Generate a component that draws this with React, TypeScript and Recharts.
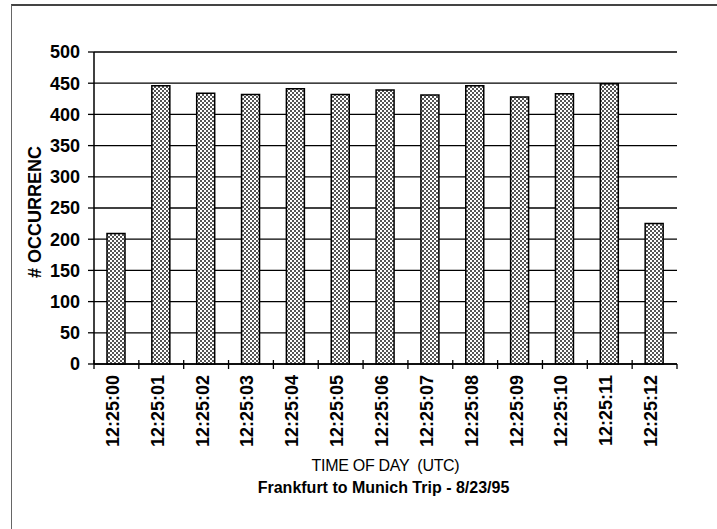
import { BarChart, Bar, XAxis, YAxis, CartesianGrid } from 'recharts';

const TIMES = [
  '12:25:00', '12:25:01', '12:25:02', '12:25:03', '12:25:04', '12:25:05', '12:25:06',
  '12:25:07', '12:25:08', '12:25:09', '12:25:10', '12:25:11', '12:25:12',
];
const OCCURRENCES = [209, 446, 434, 432, 441, 432, 439, 431, 446, 428, 433, 449, 225];
const Y_TICKS = [0, 50, 100, 150, 200, 250, 300, 350, 400, 450, 500];

const FONT = '"Liberation Sans", Arial, sans-serif';

const data = TIMES.map((time, i) => ({ time, count: OCCURRENCES[i] }));

// x tick: label rotated, plus tick marks on the category boundaries
function TimeTick(props: any) {
  const { x, y, payload, index } = props;
  const half = payload?.offset ?? 22.4;
  const last = index === TIMES.length - 1;
  const tx = x - 4;
  const ty = y + 11;
  return (
    <g>
      <line x1={x - half} x2={x - half} y1={y - 4} y2={y + 5} stroke="#000" strokeWidth={1.3} />
      {last && <line x1={x + half} x2={x + half} y1={y} y2={y + 5} stroke="#000" strokeWidth={1.3} />}
      <text
        x={tx}
        y={ty}
        transform={`rotate(-90, ${tx}, ${ty})`}
        textAnchor="end"
        dy="0.36em"
        fontFamily={FONT}
        fontWeight="bold"
        fontSize={18}
        fill="#000"
      >
        {payload.value}
      </text>
    </g>
  );
}

function AxisTitles(props: any) {
  const { viewBox } = props;
  const cx = viewBox.x + viewBox.width / 2;
  return (
    <g fontFamily={FONT} fill="#000" textAnchor="middle">
      <text x={cx} y={viewBox.y + 107} fontSize={16} letterSpacing={-0.3} style={{ whiteSpace: 'pre' }}>
        TIME OF DAY  (UTC)
      </text>
      <text x={cx - 2} y={viewBox.y + 129} fontSize={16} fontWeight="bold">
        Frankfurt to Munich Trip - 8/23/95
      </text>
    </g>
  );
}

function YTitle() {
  return (
    <text
      x={35}
      y={212}
      transform="rotate(-90, 35, 212)"
      textAnchor="middle"
      dy="0.36em"
      fontFamily={FONT}
      fontWeight="bold"
      fontSize={18}
      fill="#000"
    >
      # OCCURRENC
    </text>
  );
}

export default function App() {
  return (
    <div style={{ position: 'absolute', left: 0, top: 0, width: 717, height: 529, background: '#fff' }}>
      <div
        style={{
          position: 'absolute',
          left: 11,
          top: 4,
          right: 0,
          bottom: 0,
          borderTop: '2px solid #444',
          borderLeft: '1px solid #666',
        }}
      />
      <BarChart
        width={717}
        height={529}
        data={data}
        margin={{ top: 52, right: 40, bottom: 0, left: 0 }}
        barCategoryGap={0}
        style={{ position: 'absolute', left: 0, top: 0 }}
      >
        <defs>
          <pattern id="dots" width="4" height="4" patternUnits="userSpaceOnUse">
            <rect width="4" height="4" fill="#fff" />
            <rect x="0" y="0" width="2" height="2" fill="#555" />
            <rect x="2" y="2" width="2" height="2" fill="#555" />
          </pattern>
        </defs>
        <CartesianGrid vertical={false} stroke="#000" strokeWidth={1.3} />
        <XAxis
          dataKey="time"
          height={165}
          interval={0}
          tickSize={0}
          tickMargin={0}
          tickLine={false}
          axisLine={{ stroke: '#000', strokeWidth: 1.5 }}
          tick={<TimeTick />}
          label={<AxisTitles />}
        />
        <YAxis
          width={94}
          domain={[0, 500]}
          ticks={Y_TICKS}
          interval={0}
          tickSize={6}
          tickMargin={8}
          tickLine={{ stroke: '#000', strokeWidth: 1.3 }}
          axisLine={{ stroke: '#000', strokeWidth: 1.5 }}
          tick={{ fill: '#000', fontSize: 18, fontWeight: 'bold', fontFamily: FONT }}
          label={<YTitle />}
        />
        <YAxis
          yAxisId="right"
          orientation="right"
          width={0}
          domain={[0, 500]}
          tick={false}
          tickLine={false}
          axisLine={{ stroke: '#000', strokeWidth: 1.5 }}
        />
        <Bar
          dataKey="count"
          barSize={18}
          fill="url(#dots)"
          stroke="#000"
          strokeWidth={1.5}
          isAnimationActive={false}
        />
      </BarChart>
    </div>
  );
}
